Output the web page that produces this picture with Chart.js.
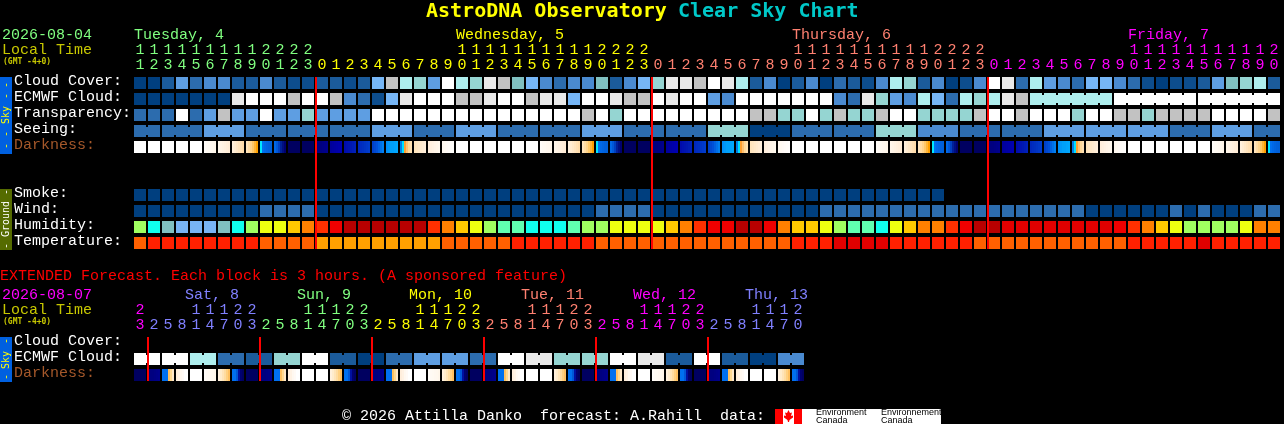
<!DOCTYPE html>
<html>
<head>
<meta charset="utf-8">
<title>AstroDNA Observatory Clear Sky Chart</title>
<script src="https://cdn.jsdelivr.net/npm/chart.js@4/dist/chart.umd.js"></script>
<style>
html,body{margin:0;padding:0;background:#000;overflow:hidden}
canvas{display:block}
</style>
</head>
<body>
<canvas id="c" width="1284" height="424"></canvas>
<script>
// ---------- data: sky condition levels, one letter per hour column ----------
const cloudCover   = "AACFDEECCE CBBCCBCGKH IFMHILKJGE DEEJCEGILL KMLHCEACEA DCBEHICEAB EMLDHFEDGG EDBABBCFJI HC".replace(/ /g,"").split("");
const ecmwfCloud   = "AAAAAAALMM MKMMKEDBGL MMMKKLMMKL LGMMLKKMLM MFEMMMMMMM EDLIFEHGDH IHLKHHHHHH MMMMMMMMMM MM".replace(/ /g,"").split("");
const transparency = "DDDMDFKFFM FFIFFFFMMM MMMMMMMMMM MMKMIMMMMM MMMMKKIIMI KIIKMMIIII KMMKMMMIMM KKIKKKKMMM MK".replace(/ /g,"").split("");
const seeingRuns   = [2,3,3,3,3,3,3,3,3,3,3,3,3,3,3,3,3,3,3,3,3,3,3,3,3,3,3,2];
const seeingLevels = "DDFDDDFDFDDFDDIADDIEDDFFFDFD".split("");
const ecmwfRuns    = [[64,69],[70,75],[76,81]];
const darkness     = ["W","W","W","W","W","f","c","h","o","b","B","n","n","v","p","q","r","s","t","u","e","g","i",
                      "W","W","W","W","W","W","f","c","h","o","b","B","n","n","v","p","q","r","s","t","u","e","g","i",
                      "W","W","W","W","W","W","f","c","h","o","b","B","n","n","v","p","q","r","s","t","u","e","g","i",
                      "W","W","W","W","W","W","f","c","h","o","b"];
const smoke        = "AAAAAAAAAA AAAAAAAAAA AAAAAAAAAA AAAAAAAAAA AAAAAAAAAA AAAAAAAA".replace(/ /g,"").split("");
const wind         = "AAAAAAAAAD DDDAAAAAAA AAAAAAAAAA AAADDDDAAA AAAAAAAAAD DDDDDDDDDD DDDDDDDDAA AAAADADAAA DD".replace(/ /g,"").split("");
const humidity     = "gctbbbtcgy yorReddddd dRroygsscc csggyyyyor Reedderooy gsscyorrRe ddmmmmmmmm eRroyggggy rr".replace(/ /g,"").split("");
const temperature  = "puuuuuuuup pppaaaaaaa aapppppuuu uuuppppppp pppppppuuu xxxxuuuuuu pppppppppp puuuuuxuuu uu".replace(/ /g,"").split("");
const extEcmwf     = "MMHDCIMCADFFDMLIIMLCMCAE".split("");
const extDarkness  = ["n","v","J","K","W","f","Y","Z","n","v","J","K","W","W","Y","Z","n","v","J","K","W","f","Y","Z",
                      "n","v","J","K","W","W","Y","Z","n","v","J","K","W","f","Y","Z","n","v","J","K","W","W","Y","Z"];

const rowNames  = ["Cloud Cover:","ECMWF Cloud:","Transparency:","Seeing:","Darkness:","Smoke:","Wind:","Humidity:","Temperature:","Cloud Cover:","ECMWF Cloud:","Darkness:"];
const rowPos    = [0,1,2,3,4,7,8,9,10,16.25,17.25,18.25];
const rowColors = ["#fff","#fff","#fff","#fff","#a5582a","#fff","#fff","#fff","#fff","#fff","#fff","#a5582a"];

const hoursMain = [11,12,13,14,15,16,17,18,19,20,21,22,23,
  0,1,2,3,4,5,6,7,8,9,10,11,12,13,14,15,16,17,18,19,20,21,22,23,
  0,1,2,3,4,5,6,7,8,9,10,11,12,13,14,15,16,17,18,19,20,21,22,23,
  0,1,2,3,4,5,6,7,8,9,10,11,12,13,14,15,16,17,18,19,20];
const mainDayNames  = ["Tuesday, 4","Wednesday, 5","Thursday, 6","Friday, 7"];
const mainDayCols   = [0,23,47,71];
const mainColStarts = [0,13,37,61];
const mainMidnights = [13,37,61];
const hoursExt = [23,2,5,8,11,14,17,20,23,2,5,8,11,14,17,20,23,2,5,8,11,14,17,20,23,2,5,8,11,14,17,20,23,2,5,8,11,14,17,20,23,2,5,8,11,14,17,20];
const extDayNames   = ["Sat, 8","Sun, 9","Mon, 10","Tue, 11","Wed, 12","Thu, 13"];
const extDayCols    = [3.64,11.64,19.64,27.64,35.64,43.64];
const extColStarts  = [0,1,9,17,25,33,41];
const extMidnights  = [1,9,17,25,33,41];

// ---------- styles ----------
const GREEN="#80ff80",YEL="#ffff00",SAL="#ff8070",MAG="#ff00ff",BLU="#8080ff";
const mainDayColors=[GREEN,YEL,SAL,MAG];
const extColColors=[MAG,BLU,GREEN,YEL,SAL,MAG,BLU];
const extDayColors=[BLU,GREEN,YEL,SAL,MAG,BLU];
const skyPalette={A:"#003f7f",B:"#0d4d8d",C:"#1b5b9b",D:"#2c6cae",E:"#4a8ad0",F:"#5e9ee2",G:"#76b6f6",
  H:"#aeeeee",I:"#95d5d2",J:"#80c0c0",K:"#c2c2c2",L:"#e9e9e9",M:"#ffffff"};
const humPalette={g:"#a0ff60",c:"#10ffee",t:"#80c0c0",b:"#78b4f4",y:"#eeff10",o:"#ffc800",r:"#ff8000",R:"#ff3000",
  e:"#f00000",d:"#b80000",m:"#e00000",s:"#60ffb0"};
const tmpPalette={p:"#ff6000",u:"#ff2000",a:"#ffa000",x:"#e00000"};
const darkPalette={
  W:["#fff","#fff","#fff","#fff","#fff","#fff"],
  f:["#fffcf8","#fffaf4","#fffaf2","#fff8f0","#fff8ee","#fff6ea"],
  c:["#fff6ea","#fff4e6","#fff2e2","#fff0de","#ffeeda","#ffecd6"],
  h:["#fff0dc","#ffecd2","#ffe8c8","#ffe4be","#ffe0b4","#ffdcaa"],
  o:["#ffe4bc","#ffdca4","#ffd48c","#ffc868","#ffb638","#ffa000"],
  b:["#00e8ff","#0070f0","#0068e8","#0064e0","#0060dc","#0060d8"],
  B:["#0068e8","#0058d8","#0040c0","#002098","#000f80","#000070"],
  n:["#000060","#000060","#000060","#000060","#000060","#000060"],
  v:["#00007c","#000080","#000080","#000084","#000088","#00008c"],
  p:["#00009c","#0000a0","#0000a4","#0000a8","#0000ac","#0000b0"],
  q:["#000cac","#0010b0","#0014b0","#0018b0","#001cb4","#0020b8"],
  r:["#0028bc","#002cc0","#0030c0","#0034c4","#0038c8","#003ccc"],
  s:["#0040c8","#0048d0","#0050d8","#0060e0","#0070e8","#0080f0"],
  t:["#0090f8","#0098f8","#00a0f8","#00a0fa","#00a4fc","#00a8fc"],
  u:["#0080e8","#00e0ff","#ffa030","#ffc070","#ffd898","#ffe0b0"],
  e:["#ffe4bc","#ffe6c2","#ffe8c8","#ffeace","#ffecd4","#ffeeda"],
  g:["#ffeedc","#fff0e0","#fff2e4","#fff4e8","#fff6ea","#fff8ee"],
  i:["#fff8f0","#fffaf2","#fffaf6","#fffcf8","#fffdfa","#fffefc"],
  J:["#0070f0","#0070f0","#0070f0","#ffc060","#ffd890","#ffe8c8"],
  K:["#ffeedc","#fff2e4","#fff8f0","#fffaf6","#fff","#fff"],
  Y:["#fff0dc","#ffeccc","#ffe4b8","#ffdca0","#ffd080","#ffc060"],
  Z:["#0070f0","#0070f0","#0058d8","#0010a0","#000070","#000060"]
};
const MONO="'Liberation Mono'";
const BOLD="'DejaVu Sans Mono'";
const CELL=12/14;               // cell width as a share of one column
const LINK=[CELL,1];

// ---------- datasets ----------
function rowDataset(label,y,codes,palette){
  return {label,grouped:false,barThickness:12,inflateAmount:0,borderWidth:0,
    data:codes.map((_,i)=>({x:[i,i+CELL],y})),
    backgroundColor:codes.map(c=>palette[c])};
}
function linkDataset(label,y,pairs,palette){
  return {label,grouped:false,barThickness:8,inflateAmount:0,borderWidth:0,
    data:pairs.map(p=>({x:[p[0]+LINK[0],p[0]+LINK[1]],y})),
    backgroundColor:pairs.map(p=>palette[p[1]])};
}
function darkDataset(label,y,codes){
  const data=[],colors=[];
  codes.forEach((c,i)=>darkPalette[c].forEach((col,k)=>{
    data.push({x:[i+k*CELL/6,i+(k+1)*CELL/6],y});colors.push(col);
  }));
  return {label,grouped:false,barThickness:12,inflateAmount:0,borderWidth:0,data,backgroundColor:colors};
}
function ruleDataset(label,y,h,cols){
  return {label,grouped:false,barThickness:h,inflateAmount:0,borderWidth:0,
    data:cols.map(c=>({x:[c-1/14,c+1/14],y})),backgroundColor:"#ff0000"};
}
// seeing: expand the runs to cells and links
const seeingCells=[],seeingLinks=[];
seeingRuns.forEach((n,r)=>{
  for(let k=0;k<n;k++){
    if(k<n-1) seeingLinks.push([seeingCells.length,seeingLevels[r]]);
    seeingCells.push(seeingLevels[r]);
  }
});
const ecmwfLinks=[];
ecmwfRuns.forEach(([a,b])=>{for(let i=a;i<b;i++) ecmwfLinks.push([i,ecmwfCloud[i]]);});
// extended ECMWF: two cells per forecast block
const extCells=[],extLinks=[];
extEcmwf.forEach(c=>{extLinks.push([extCells.length,c]);extCells.push(c,c);});

const datasets=[
  ruleDataset("Midnight",5,172,mainMidnights),
  ruleDataset("Extended midnight",17.25,44,extMidnights),
  rowDataset("Cloud Cover",rowPos[0],cloudCover,skyPalette),
  rowDataset("ECMWF Cloud",rowPos[1],ecmwfCloud,skyPalette),
  linkDataset("ECMWF links",rowPos[1],ecmwfLinks,skyPalette),
  rowDataset("Transparency",rowPos[2],transparency,skyPalette),
  rowDataset("Seeing",rowPos[3],seeingCells,skyPalette),
  linkDataset("Seeing links",rowPos[3],seeingLinks,skyPalette),
  darkDataset("Darkness",rowPos[4],darkness),
  rowDataset("Smoke",rowPos[5],smoke,skyPalette),
  rowDataset("Wind",rowPos[6],wind,skyPalette),
  rowDataset("Humidity",rowPos[7],humidity,humPalette),
  rowDataset("Temperature",rowPos[8],temperature,tmpPalette),
  rowDataset("Extended ECMWF",rowPos[10],extCells,skyPalette),
  linkDataset("Extended links",rowPos[10],extLinks,skyPalette),
  darkDataset("Extended Darkness",rowPos[11],extDarkness)
];

// ---------- scales ----------
const X_MIN=0,X_MAX=(1284-134)/14;
const Y_MIN=-83/16,Y_MAX=(424-83)/16;
const yFor=px=>(px-83)/16;
const colourAt=(col,starts,colors)=>{let c=colors[0];starts.forEach((s,i)=>{if(col>=s)c=colors[i];});return c;};
const hourLabel=h=>{const s=String(h);return s.length>1?[s[0],s[1]]:["",s];};
const noPadding=s=>{s.paddingTop=s.paddingBottom=s.paddingLeft=s.paddingRight=0;};
function xAxis(yPx,ticks,labelOf,colorOf,align){
  return {type:"linear",axis:"x",min:X_MIN,max:X_MAX,position:{y:yFor(yPx)},
    grid:{display:false,drawTicks:false},border:{display:false},
    afterFit:noPadding,
    afterBuildTicks:s=>{s.ticks=ticks.map(v=>({value:v}));},
    ticks:{autoSkip:false,maxRotation:0,minRotation:0,padding:0,align,
      font:{family:MONO,size:15,lineHeight:1},
      callback:(v,i)=>labelOf(i),color:c=>colorOf(c.index)}};
}
const centres=n=>Array.from({length:n},(_,i)=>i+6/14);

// ---------- decoration & free text ----------
function txt(ctx,s,x,y,color,font,align){
  ctx.font=font;ctx.fillStyle=color;ctx.textAlign=align||"left";ctx.textBaseline="middle";ctx.fillText(s,x,y);
}
function vtxt(ctx,s,cy,color,font){
  ctx.save();ctx.translate(6,cy);ctx.rotate(-Math.PI/2);
  ctx.font=font;ctx.fillStyle=color;ctx.textAlign="center";ctx.textBaseline="middle";ctx.fillText(s,0,0);ctx.restore();
}
const textPlugin={id:"chartText",afterDraw(chart){
  const ctx=chart.ctx,F15="15px "+MONO,SM="bold 8px "+BOLD;
  ctx.save();
  txt(ctx,"AstroDNA Observatory",426,12,"#ffff00","bold 20px "+BOLD);
  txt(ctx,"Clear Sky Chart",678,12,"#00c8c8","bold 20px "+BOLD);
  txt(ctx,"2026-08-04",2,35,GREEN,F15);
  txt(ctx,"Local Time",2,50,"#c8c800",F15);
  txt(ctx,"(GMT -4+0)",3,62,"#c8c800",SM);
  txt(ctx,"EXTENDED Forecast. Each block is 3 hours. (A sponsored feature)",0,276,"#ff0000",F15);
  txt(ctx,"2026-08-07",2,295,MAG,F15);
  txt(ctx,"Local Time",2,310,"#c8c800",F15);
  txt(ctx,"(GMT -4+0)",3,322,"#c8c800",SM);
  // side bands
  ctx.fillStyle="#0060e0";ctx.fillRect(0,77,12,77);ctx.fillRect(0,337,12,45);
  ctx.fillStyle="#556b00";ctx.fillRect(0,189,12,61);
  const VF="10px "+BOLD;
  [85,96,134,146].forEach(y=>vtxt(ctx,"-",y,"#ffff00",VF));
  vtxt(ctx,"Sky",115,"#ffff00",VF);
  [341,377].forEach(y=>vtxt(ctx,"-",y,"#ffff00",VF));
  vtxt(ctx,"Sky",360,"#ffff00",VF);
  [192,246].forEach(y=>vtxt(ctx,"-",y,"#ffffff",VF));
  vtxt(ctx,"Ground",219,"#ffffff",VF);
  // footer
  txt(ctx,"\u00a9 2026 Attilla Danko  forecast: A.Rahill  data:",342,416,"#ffffff",F15);
  ctx.fillStyle="#fff";ctx.fillRect(775,409,166,15);
  ctx.fillStyle="#f00";ctx.fillRect(775,409,8,15);ctx.fillRect(794,409,8,15);
  ctx.beginPath();
  [[788.5,410],[790,413],[792,412.5],[791,416],[793,415.5],[793,417.5],[789.5,420],[789,422],[788,422],[787.5,420],[784,417.5],[784,415.5],[786,416],[785,412.5],[787,413]]
    .forEach((p,i)=>i?ctx.lineTo(p[0],p[1]):ctx.moveTo(p[0],p[1]));
  ctx.closePath();ctx.fill();
  const EF="9px 'Liberation Sans'";
  txt(ctx,"Environment",816,413,"#000",EF);
  txt(ctx,"Canada",816,420.5,"#000",EF);
  txt(ctx,"Environnement",881,413,"#000",EF);
  txt(ctx,"Canada",881,420.5,"#000",EF);
  ctx.restore();
}};

Chart.defaults.font.family=MONO;
new Chart(document.getElementById("c"),{
  type:"bar",
  data:{datasets},
  plugins:[textPlugin],
  options:{
    indexAxis:"y",responsive:false,animation:false,devicePixelRatio:1,
    layout:{padding:{left:14,top:0,right:0,bottom:0}},
    plugins:{legend:{display:false},tooltip:{enabled:false},title:{display:false}},
    scales:{
      x:xAxis(42.5,centres(hoursMain.length),i=>hourLabel(hoursMain[i]),i=>colourAt(i,mainColStarts,mainDayColors),"center"),
      xDays:xAxis(27.5,mainDayCols,i=>mainDayNames[i],i=>mainDayColors[i],"start"),
      xExt:xAxis(302.5,centres(hoursExt.length),i=>hourLabel(hoursExt[i]),i=>colourAt(i,extColStarts,extColColors),"center"),
      xExtDays:xAxis(287.5,extDayCols,i=>extDayNames[i],i=>extDayColors[i],"start"),
      y:{type:"linear",axis:"y",position:"left",reverse:true,offset:false,min:Y_MIN,max:Y_MAX,
        grid:{display:false,drawTicks:false},border:{display:false},
        afterFit:s=>{s.width=120;noPadding(s);},
        afterBuildTicks:s=>{s.ticks=rowPos.map(v=>({value:v-2/16}));},
        ticks:{autoSkip:false,padding:0,crossAlign:"far",font:{family:MONO,size:15,lineHeight:1},
          callback:(v,i)=>rowNames[i],color:c=>rowColors[c.index]}}
    }
  }
});
</script>
</body>
</html>
